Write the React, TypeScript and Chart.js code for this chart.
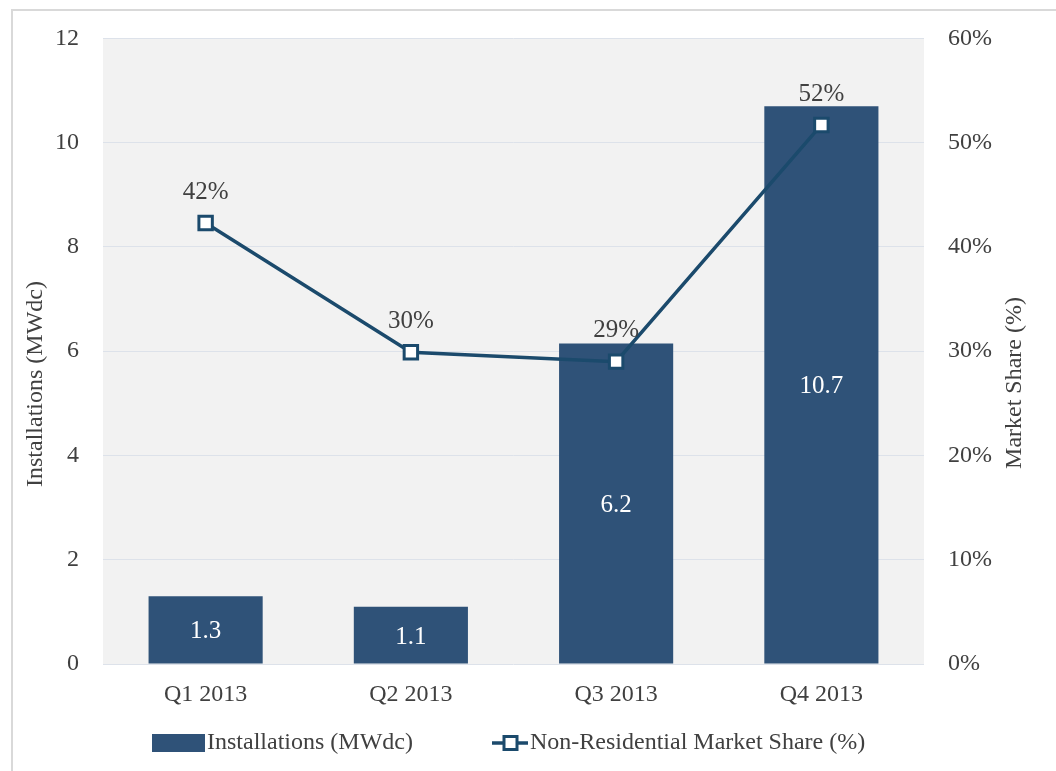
import React, { useEffect, useRef } from "react";
import { Chart, registerables } from "chart.js";

Chart.register(...registerables);

const categories = ["Q1 2013", "Q2 2013", "Q3 2013", "Q4 2013"];
const installations = [1.3, 1.1, 6.15, 10.7];
const installationLabels = ["1.3", "1.1", "6.2", "10.7"];
const marketShare = [42.3, 29.9, 29.0, 51.7];
const marketShareLabels = ["42%", "30%", "29%", "52%"];

const FONT = "'Liberation Serif', 'Times New Roman', serif";
const TEXT = "#404040";
const BAR = "#2f5278";
const LINE = "#1b4a6c";

export default function App() {
  const ref = useRef<HTMLCanvasElement | null>(null);
  useEffect(() => {
    const canvas = ref.current!;
    const bgPlugin = {
      id: "bg",
      beforeDraw(chart: any) {
        const { ctx, chartArea: a } = chart;
        ctx.save();
        ctx.fillStyle = "#f2f2f2";
        ctx.fillRect(a.left, a.top, a.right - a.left, a.bottom - a.top);
        ctx.restore();
      },
      afterDatasetsDraw(chart: any) {
        const { ctx } = chart;
        ctx.save();
        ctx.font = `25px ${FONT}`;
        ctx.textAlign = "center";
        ctx.textBaseline = "middle";
        const barMeta = chart.getDatasetMeta(1);
        barMeta.data.forEach((el: any, i: number) => {
          ctx.fillStyle = "#ffffff";
          ctx.fillText(installationLabels[i], el.x, (el.y + el.base) / 2 + 2);
        });
        const lineMeta = chart.getDatasetMeta(0);
        lineMeta.data.forEach((el: any, i: number) => {
          ctx.fillStyle = TEXT;
          ctx.fillText(marketShareLabels[i], el.x, el.y - 31);
        });
        ctx.restore();
      },
      afterDraw(chart: any) {
        const { ctx } = chart;
        ctx.save();
        ctx.font = `24px ${FONT}`;
        ctx.fillStyle = TEXT;
        ctx.textAlign = "center";
        ctx.textBaseline = "middle";
        ctx.translate(36, 384);
        ctx.rotate(-Math.PI / 2);
        ctx.fillText("Installations (MWdc)", 0, 0);
        ctx.restore();
        ctx.save();
        ctx.font = `24px ${FONT}`;
        ctx.fillStyle = TEXT;
        ctx.textAlign = "center";
        ctx.textBaseline = "middle";
        ctx.translate(1015, 383);
        ctx.rotate(-Math.PI / 2);
        ctx.fillText("Market Share (%)", 0, 0);
        ctx.restore();
        // legend
        ctx.save();
        const ly = 743;
        ctx.fillStyle = BAR;
        ctx.fillRect(152, 734, 53, 18);
        ctx.font = `24px ${FONT}`;
        ctx.fillStyle = TEXT;
        ctx.textAlign = "left";
        ctx.textBaseline = "middle";
        ctx.fillText("Installations (MWdc)", 207, ly);
        ctx.strokeStyle = LINE;
        ctx.lineWidth = 3.5;
        ctx.beginPath();
        ctx.moveTo(492, ly);
        ctx.lineTo(528, ly);
        ctx.stroke();
        ctx.lineWidth = 3;
        ctx.fillStyle = "#ffffff";
        ctx.fillRect(504, ly - 6.5, 13, 13);
        ctx.strokeRect(504, ly - 6.5, 13, 13);
        ctx.fillStyle = TEXT;
        ctx.fillText("Non-Residential Market Share (%)", 530, ly);
        ctx.restore();
      },
    };
    const chart = new Chart(canvas, {
      type: "bar",
      data: {
        labels: categories,
        datasets: [
          {
            type: "line",
            label: "Non-Residential Market Share (%)",
            data: marketShare,
            yAxisID: "y1",
            borderColor: LINE,
            borderWidth: 3.5,
            pointStyle: "rect",
            pointRadius: 9.5,
            pointBackgroundColor: "#ffffff",
            pointBorderColor: LINE,
            pointBorderWidth: 3,
            tension: 0,
            order: 0,
          } as any,
          {
            type: "bar",
            label: "Installations (MWdc)",
            data: installations,
            yAxisID: "y",
            backgroundColor: BAR,
            categoryPercentage: 1,
            barPercentage: 0.556,
            order: 1,
          },
        ],
      },
      options: {
        animation: false,
        responsive: false,
        maintainAspectRatio: false,
        layout: { padding: { top: 36, left: 0, right: 0, bottom: 0 } },
        plugins: { legend: { display: false }, tooltip: { enabled: false } },
        scales: {
          x: {
            grid: { display: false },
            border: { display: false },
            ticks: { color: TEXT, font: { family: FONT, size: 24 }, padding: 8 },
            afterFit(s: any) {
              s.height = 107;
            },
          },
          y: {
            position: "left",
            min: 0,
            max: 12,
            ticks: { stepSize: 2, color: TEXT, font: { family: FONT, size: 24 }, padding: 24 },
            grid: { color: "#dde2ea", lineWidth: 1, drawTicks: false },
            border: { display: false },
            afterFit(s: any) {
              s.width = 103;
            },
          },
          y1: {
            position: "right",
            min: 0,
            max: 60,
            ticks: {
              stepSize: 10,
              color: TEXT,
              font: { family: FONT, size: 24 },
              padding: 24,
              callback: (v: any) => v + "%",
            },
            grid: { display: false, drawTicks: false },
            border: { display: false },
            afterFit(s: any) {
              s.width = 132;
            },
          },
        },
      },
      plugins: [bgPlugin],
    });
    return () => chart.destroy();
  }, []);
  return (
    <div>
      <div
        style={{
          position: "fixed",
          left: 11,
          top: 9,
          width: 1200,
          height: 900,
          border: "2px solid #d9d9d9",
          boxSizing: "border-box",
        }}
      />
      <canvas
        ref={ref}
        width={1056}
        height={771}
        style={{ position: "fixed", left: 0, top: 0, width: 1056, height: 771 }}
      />
    </div>
  );
}
